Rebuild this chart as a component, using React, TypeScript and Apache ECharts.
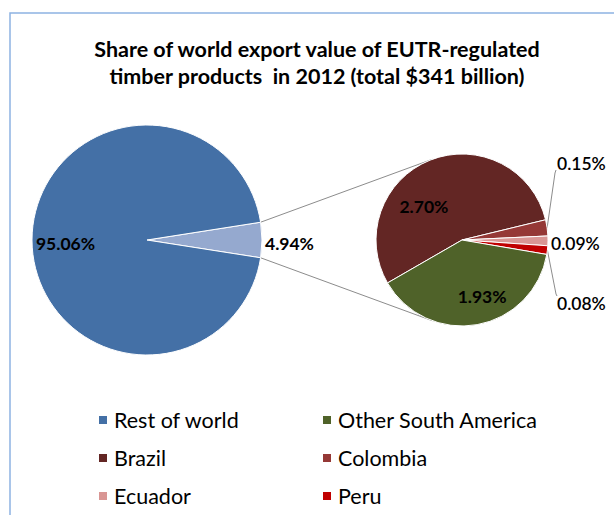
import React, { useEffect, useRef } from "react";
import * as echarts from "echarts";

// ---- data ----
const mainNames = ["Other", "Rest of world"];
const mainValues = [4.94, 95.06];
const subNames = ["Brazil", "Colombia", "Ecuador", "Peru", "Other South America"];
const subValues = [2.7, 0.15, 0.09, 0.08, 1.93];
const legendLeftCol = ["Rest of world", "Brazil", "Ecuador"];
const legendRightCol = ["Other South America", "Colombia", "Peru"];
const titleLines = [
  "Share of world export value of EUTR-regulated",
  "timber products  in 2012 (total $341 billion)",
];

// ---- styles ----
const COLORS: Record<string, string> = {
  Other: "#95A9CF",
  "Rest of world": "#4470A6",
  Brazil: "#632624",
  Colombia: "#953836",
  Ecuador: "#D99694",
  Peru: "#C00000",
  "Other South America": "#4F6229",
};
const FONT = "Lato, 'Open Sans', sans-serif";

const CY = 240;
const CX1 = 147;
const R1 = 115;
const CX2 = 462;
const R2 = 86;

export default function App() {
  const ref = useRef<HTMLDivElement>(null);

  useEffect(() => {
    if (!ref.current) return;
    const chart = echarts.init(ref.current, undefined, { renderer: "svg" });

    const totalMain = mainValues.reduce((a, b) => a + b, 0);
    const half = ((mainValues[0] / totalMain) * 360) / 2; // half angle of split slice
    const rad = (d: number) => (d * Math.PI) / 180;

    // split slice edge points on main pie
    const p1 = [CX1 + R1 * Math.cos(rad(half)), CY - R1 * Math.sin(rad(half))];
    const p2 = [CX1 + R1 * Math.cos(rad(half)), CY + R1 * Math.sin(rad(half))];
    // tangent points on secondary pie
    const tangent = (p: number[], upper: boolean) => {
      const dx = p[0] - CX2;
      const dy = -(p[1] - CY);
      const d = Math.sqrt(dx * dx + dy * dy);
      const base = Math.atan2(dy, dx);
      const off = Math.acos(R2 / d);
      const a = upper ? base - off : base + off;
      return [CX2 + R2 * Math.cos(a), CY - R2 * Math.sin(a)];
    };
    const t1 = tangent(p1, true);
    const t2 = tangent(p2, false);

    const totalSub = subValues.reduce((a, b) => a + b, 0);
    const brazilAngle = (subValues[0] / totalSub) * 360;
    const subStart = 13.6 + brazilAngle;
    // mid angle of each secondary slice (clockwise from subStart)
    const midAngles: number[] = [];
    let acc = subStart;
    subValues.forEach((v) => {
      const span = (v / totalSub) * 360;
      midAngles.push(acc - span / 2);
      acc -= span;
    });
    const edgePt = (i: number) => [
      CX2 + R2 * Math.cos(rad(midAngles[i])),
      CY - R2 * Math.sin(rad(midAngles[i])),
    ];

    const outsideSub = new Set(["Colombia", "Ecuador", "Peru"]);
    const subLabelY: Record<string, number> = { Colombia: CY - 77, Ecuador: CY + 3, Peru: CY + 63 };
    const subLabelX: Record<string, number> = { Colombia: CX2 + 95, Ecuador: CX2 + 89, Peru: CX2 + 95 };

    const pctLabel = (p: any) => Number(p.value).toFixed(2) + "%";

    const legendCommon = {
      orient: "vertical",
      top: 409,
      padding: 0,
      itemGap: 16,
      icon: "rect",
      itemWidth: 10,
      itemHeight: 10,
      selectedMode: false,
      textStyle: { fontFamily: FONT, fontSize: 21.5, color: "#000", lineHeight: 21, padding: [0, 0, 0, 1] },
    };

    chart.setOption({
      animation: false,
      title: {
        text: titleLines.join("\n"),
        left: 312,
        top: 30,
        textAlign: "center",
        textStyle: { fontFamily: FONT, fontSize: 21.5, fontWeight: "bold", color: "#000", lineHeight: 27 },
      },
      legend: [
        { ...legendCommon, left: 97, data: legendLeftCol },
        { ...legendCommon, left: 321, data: legendRightCol },
      ],
      graphic: [
        {
          type: "rect",
          shape: { x: 10, y: 13, width: 700, height: 600 },
          style: { fill: "none", stroke: "#8DB3E2", lineWidth: 1.5 },
          silent: true,
          z: -10,
        },
        {
          type: "line",
          shape: { x1: p1[0], y1: p1[1], x2: t1[0], y2: t1[1] },
          style: { stroke: "#8C8C8C", lineWidth: 1 },
          z: -5,
        },
        {
          type: "line",
          shape: { x1: p2[0], y1: p2[1], x2: t2[0], y2: t2[1] },
          style: { stroke: "#8C8C8C", lineWidth: 1 },
          z: -5,
        },
      ],
      series: [
        {
          type: "pie",
          center: [CX1, CY],
          radius: R1,
          startAngle: half,
          clockwise: true,
          avoidLabelOverlap: false,
          itemStyle: { borderColor: "#fff", borderWidth: 1 },
          label: {
            show: true,
            position: "inside",
            formatter: pctLabel,
            fontFamily: FONT,
            fontSize: 17.5,
            fontWeight: "bold",
            color: "#000",
          },
          labelLine: { show: false, length: 0, length2: 0 },
          labelLayout: (p: any) => (p.dataIndex === 1 ? { dx: -21, dy: 3 } : { dx: 0, dy: 3 }),
          data: mainNames.map((n, i) => ({
            name: n,
            value: mainValues[i],
            itemStyle: { color: COLORS[n] },
            label: i === 0 ? { position: "outside", distanceToLabelLine: 3 } : {},
          })),
        },
        {
          type: "pie",
          center: [CX2, CY],
          radius: R2,
          startAngle: subStart,
          clockwise: true,
          avoidLabelOverlap: false,
          itemStyle: { borderColor: "#fff", borderWidth: 1 },
          label: {
            show: true,
            position: "inside",
            formatter: pctLabel,
            fontFamily: FONT,
            fontSize: 17.5,
            fontWeight: "bold",
            color: "#000",
          },
          labelLine: { show: false },
          labelLayout: (p: any) => {
            const i = p.dataIndex;
            const n = subNames[i];
            if (n === "Brazil") return { dx: -21, dy: 9 };
            if (n === "Other South America") return { dx: 12, dy: 11 };
            const lx = subLabelX[n];
            const ly = subLabelY[n];
            const e = edgePt(i);
            const out: any = { x: lx, y: ly, align: "left", verticalAlign: "middle" };
            if (n === "Colombia") out.labelLinePoints = [e, [lx - 2, ly + 10], [lx - 1, ly + 7]];
            if (n === "Peru") out.labelLinePoints = [e, [lx - 1, ly - 9], [lx, ly - 7]];
            return out;
          },
          data: subNames.map((n, i) => ({
            name: n,
            value: subValues[i],
            itemStyle: { color: COLORS[n] },
            label: outsideSub.has(n) ? { position: "outside", fontWeight: 600 } : {},
            labelLine: outsideSub.has(n)
              ? { show: n !== "Ecuador", length: 4, length2: 4, lineStyle: { color: "#8C8C8C", width: 1 } }
              : { show: false },
          })),
        },
      ],
    });

    return () => chart.dispose();
  }, []);

  return (
    <div
      ref={ref}
      style={{ position: "fixed", left: 0, top: 0, width: 614, height: 515, background: "#fff" }}
    />
  );
}
